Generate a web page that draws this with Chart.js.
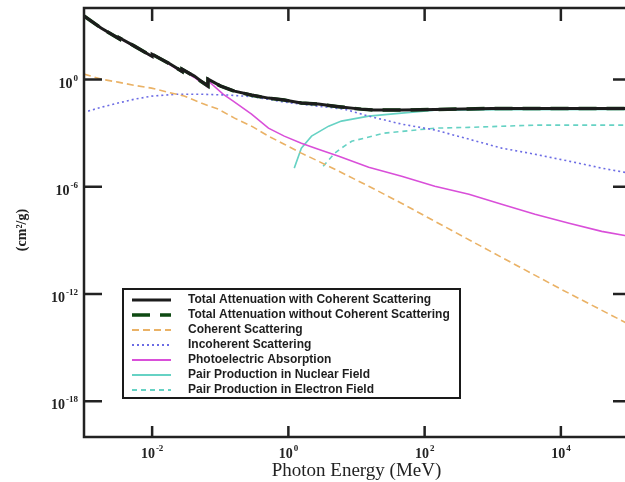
<!DOCTYPE html>
<html lang="en">
<head>
  <meta charset="UTF-8" />
  <title>Photon Cross Sections</title>
  <script src="https://cdn.jsdelivr.net/npm/chart.js"></script>
  <style>
    body { margin: 0; overflow: hidden; background: #fff; }
    #wrap { width: 632px; height: 482px; }
  </style>
</head>
<body>
<div id="wrap"><canvas id="xcom"></canvas></div>

<script>
// energies in MeV, cross sections in cm2/g (repeated energies are absorption edges)
const totalE  = [0.001, 0.00178, 0.0033, 0.0033, 0.0055, 0.01, 0.01, 0.0174, 0.0275, 0.0275, 0.0417, 0.0525, 0.066, 0.066, 0.102, 0.162, 0.288, 0.51, 0.87, 1.55, 2.75, 5.5, 11.7, 18, 46, 141, 980, 100000];
const totalMu = [3550, 760, 190, 215, 74, 19.5, 26, 8.3, 2.9, 3.8, 1.55, 0.81, 0.45, 1.05, 0.43, 0.224, 0.135, 0.091, 0.071, 0.048, 0.042, 0.03, 0.022, 0.0195, 0.0195, 0.021, 0.024, 0.024];
const totalNoCohMu = [3548, 759, 189, 214, 73.6, 19.2, 25.7, 8.1, 2.8, 3.7, 1.5, 0.77, 0.43, 1.02, 0.42, 0.22, 0.133, 0.09, 0.071, 0.048, 0.042, 0.03, 0.022, 0.0195, 0.0195, 0.021, 0.024, 0.024];

const cohE  = [0.001, 0.00178, 0.00316, 0.0055, 0.0098, 0.0174, 0.0295, 0.0525, 0.093, 0.162, 0.288, 0.51, 0.87, 1.55, 2.75, 5.5, 15.1, 45.7, 141, 1350, 10200, 100000];
const cohMu = [2.0, 1.05, 0.71, 0.47, 0.33, 0.19, 0.12, 0.048, 0.022, 0.0069, 0.00245, 6.8e-4, 2.4e-4, 7.6e-5, 2.7e-5, 7.4e-6, 1.07e-6, 1.2e-7, 1.17e-8, 1.12e-10, 1.8e-12, 2.0e-14];

const incohE  = [0.00115, 0.00178, 0.00316, 0.0055, 0.0098, 0.0224, 0.0525, 0.132, 0.288, 0.51, 0.87, 1.55, 2.75, 6.6, 15.1, 45.7, 141, 447, 1350, 4170, 13200, 39800, 100000];
const incohMu = [0.017, 0.028, 0.048, 0.079, 0.117, 0.15, 0.15, 0.135, 0.11, 0.079, 0.054, 0.042, 0.032, 0.022, 0.0089, 0.0032, 0.0015, 4.6e-4, 1.45e-4, 6.6e-5, 2.7e-5, 1.1e-5, 5.8e-6];

const photoE  = [0.001, 0.00178, 0.0033, 0.0033, 0.0055, 0.01, 0.01, 0.0174, 0.0275, 0.0275, 0.0417, 0.066, 0.066, 0.11, 0.155, 0.288, 0.51, 0.87, 1.55, 2.75, 5.5, 15.1, 46, 141, 447, 1350, 4170, 13200, 39800, 100000];
const photoMu = [3400, 730, 180, 205, 70, 18.5, 25, 7.6, 2.5, 3.4, 1.3, 0.36, 0.85, 0.151, 0.062, 0.0115, 0.0019, 6.8e-4, 2.75e-4, 1.26e-4, 5.1e-5, 1.23e-5, 3.9e-6, 1.07e-6, 3.8e-7, 1.05e-7, 2.9e-8, 9.1e-9, 3.2e-9, 1.7e-9];

const pairNucE  = [1.22, 1.55, 2.19, 3.9, 6.0, 15.1, 45.7, 141, 1350, 100000];
const pairNucMu = [1.1e-5, 1.45e-4, 6.8e-4, 0.00245, 0.0047, 0.0089, 0.0132, 0.019, 0.0205, 0.021];

const pairElE  = [3.24, 4.8, 6.0, 8.5, 25.7, 141, 447, 4170, 100000];
const pairElMu = [1.4e-5, 7.6e-5, 1.45e-4, 3.5e-4, 0.001, 0.0019, 0.0021, 0.0028, 0.0028];

const xTickPowers = [-2, 0, 2, 4];
const yTickPowers = [0, -6, -12, -18];

const pts = (xs, ys) => xs.map((x, i) => ({ x: x, y: ys[i] }));

const datasets = [
  { label: 'Total Attenuation with Coherent Scattering', data: pts(totalE, totalMu), borderColor: '#1c1c1c', borderWidth: 3 },
  { label: 'Total Attenuation without Coherent Scattering', data: pts(totalE, totalNoCohMu), borderColor: '#0e4a12', borderWidth: 3.5, borderDash: [18, 10] },
  { label: 'Coherent Scattering', data: pts(cohE, cohMu), borderColor: '#eab266', borderWidth: 1.6, borderDash: [7, 4] },
  { label: 'Incoherent Scattering', data: pts(incohE, incohMu), borderColor: '#6c6ce4', borderWidth: 1.6, borderDash: [2, 3] },
  { label: 'Photoelectric Absorption', data: pts(photoE, photoMu), borderColor: '#d94fd9', borderWidth: 1.6 },
  { label: 'Pair Production in Nuclear Field', data: pts(pairNucE, pairNucMu), borderColor: '#66d2c4', borderWidth: 1.6 },
  { label: 'Pair Production in Electron Field', data: pts(pairElE, pairElMu), borderColor: '#66d2c4', borderWidth: 1.6, borderDash: [5, 4] }
];
datasets.forEach(d => { d.pointRadius = 0; d.tension = 0; d.fill = false; });

function powLabel(ctx, p, x, y, align) {
  const base = '10';
  const exp = p < 0 ? '-' + Math.abs(p) : String(p);
  ctx.font = 'bold 14px "Liberation Serif"';
  const wb = ctx.measureText(base).width;
  ctx.font = 'bold 9px "Liberation Serif"';
  const we = ctx.measureText(exp).width + 1;
  const start = align === 'center' ? x - (wb + we) / 2 : x - wb - we;
  ctx.textAlign = 'left';
  ctx.textBaseline = 'alphabetic';
  ctx.font = 'bold 14px "Liberation Serif"';
  ctx.fillText(base, start, y);
  ctx.font = 'bold 9px "Liberation Serif"';
  ctx.fillText(exp, start + wb + 1, y - 7);
}

// frame, inward ticks, tick labels, y title and the boxed legend
const decorPlugin = {
  id: 'decor',
  afterDatasetsDraw(chart) {
    const { ctx, chartArea: a, scales } = chart;
    const seg = (x1, y1, x2, y2) => { ctx.beginPath(); ctx.moveTo(x1, y1); ctx.lineTo(x2, y2); ctx.stroke(); };
    ctx.save();
    ctx.setLineDash([]);
    ctx.strokeStyle = '#222';
    ctx.fillStyle = '#222';
    ctx.lineWidth = 2.5;
    ctx.strokeRect(a.left, a.top, a.right - a.left, a.bottom - a.top);

    xTickPowers.forEach(p => {
      const px = scales.x.getPixelForValue(Math.pow(10, p));
      seg(px, a.bottom, px, a.bottom - 11);
      seg(px, a.top, px, a.top + 13);
      powLabel(ctx, p, px, a.bottom + 21, 'center');
    });
    yTickPowers.forEach(p => {
      const py = scales.y.getPixelForValue(Math.pow(10, p));
      seg(a.left, py, a.left + 18, py);
      seg(a.right, py, a.right - 16, py);
      powLabel(ctx, p, a.left - 6, py + 8, 'right');
    });

    ctx.save();
    ctx.translate(22, 230);
    ctx.rotate(-Math.PI / 2);
    ctx.font = 'bold 14px "Liberation Serif"';
    ctx.textAlign = 'center';
    ctx.textBaseline = 'middle';
    ctx.fillStyle = '#222';
    ctx.fillText('(cm²/g)', 0, 0);
    ctx.restore();

    // legend box
    ctx.fillStyle = '#fff';
    ctx.fillRect(123, 289, 337, 109);
    ctx.lineWidth = 2;
    ctx.strokeStyle = '#1a1a1a';
    ctx.strokeRect(123, 289, 337, 109);
    ctx.font = 'bold 12px "Liberation Sans"';
    ctx.textAlign = 'left';
    ctx.textBaseline = 'middle';
    chart.data.datasets.forEach((d, i) => {
      const ly = 300 + i * 15;
      ctx.strokeStyle = d.borderColor;
      ctx.lineWidth = Math.max(d.borderWidth, 2);
      ctx.setLineDash(d.borderDash || []);
      seg(132, ly, 171, ly);
      ctx.setLineDash([]);
      ctx.fillStyle = '#1e1e1e';
      ctx.fillText(d.label, 188, ly);
    });
    ctx.restore();
  }
};

new Chart(document.getElementById('xcom'), {
  type: 'line',
  data: { datasets: datasets },
  options: {
    responsive: true,
    maintainAspectRatio: false,
    animation: false,
    layout: { padding: { left: 0, top: 8, right: 3, bottom: 0 } },
    plugins: { legend: { display: false }, tooltip: { enabled: false } },
    scales: {
      x: {
        type: 'logarithmic',
        min: 1e-3,
        max: 1e5,
        grid: { display: false },
        border: { display: false },
        ticks: { display: false },
        title: {
          display: true,
          text: 'Photon Energy (MeV)',
          color: '#222',
          font: { family: 'Liberation Serif', size: 19 },
          padding: { top: 0, bottom: 0 }
        },
        afterFit(s) { s.height = 45; }
      },
      y: {
        type: 'logarithmic',
        min: 1e-20,
        max: 1e4,
        grid: { display: false },
        border: { display: false },
        ticks: { display: false },
        afterFit(s) { s.width = 84; }
      }
    }
  },
  plugins: [decorPlugin]
});
</script>
</body>
</html>
